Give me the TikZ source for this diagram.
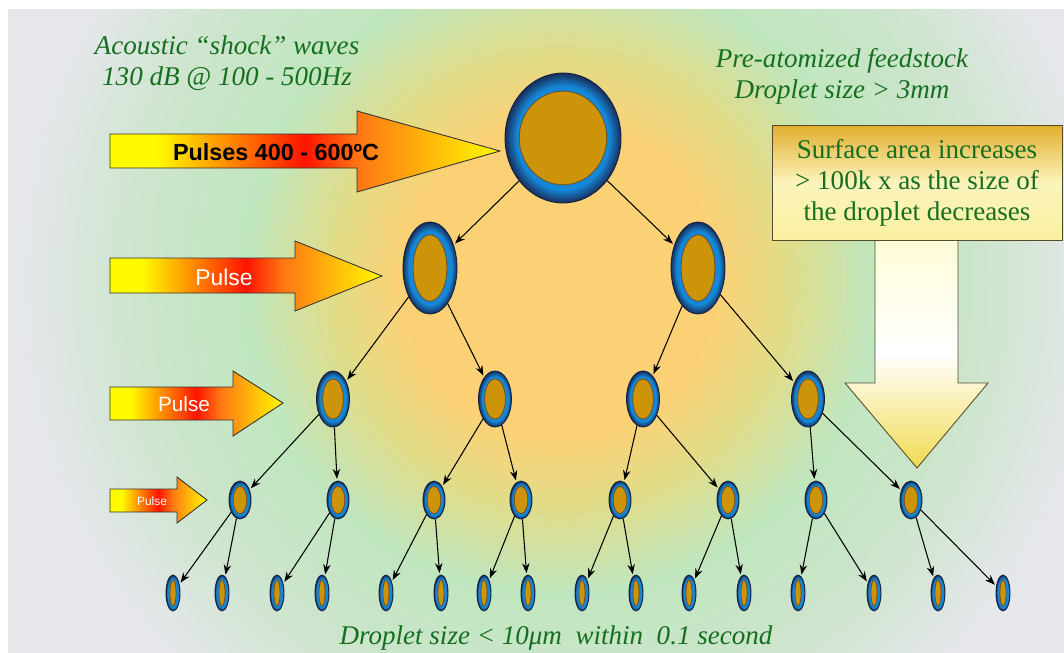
\documentclass[tikz,border=0pt]{standalone}
\usepackage{fontspec}
\setmainfont{Liberation Serif}
\newfontfamily\arialfont{Liberation Sans}
\usetikzlibrary{shapes.geometric, arrows.meta}

\definecolor{txtgreen}{RGB}{22,110,32}
\definecolor{bgcore}{RGB}{252,209,118}
\definecolor{bgmid}{RGB}{226,220,135}
\definecolor{bggreen}{RGB}{192,230,190}
\definecolor{bggreen2}{RGB}{205,229,205}
\definecolor{bggrey}{RGB}{229,231,234}
\definecolor{ringblue}{RGB}{20,135,215}
\definecolor{ringdark}{RGB}{25,45,90}
\definecolor{corefill}{RGB}{205,148,10}
\definecolor{coreline}{RGB}{115,75,20}
\definecolor{boxgold}{RGB}{226,174,46}
\definecolor{boxlight}{RGB}{250,240,160}
\definecolor{shaftlight}{RGB}{255,252,215}
\definecolor{shafttip}{RGB}{240,218,80}
\definecolor{pyellow}{RGB}{255,250,0}
\definecolor{pred}{RGB}{255,20,0}
\definecolor{porange}{RGB}{255,120,20}

\pgfdeclareradialshading{glow}{\pgfpoint{0bp}{0bp}}{color(0bp)=(bgcore); color(7bp)=(bgcore); color(10bp)=(bgmid); color(14bp)=(bggreen); color(19bp)=(bggreen2); color(24bp)=(bggrey); color(50bp)=(bggrey)}
\pgfdeclareradialshading{ring}{\pgfpoint{0bp}{0bp}}{color(0bp)=(ringblue); color(20bp)=(ringblue); color(25bp)=(ringdark); color(50bp)=(ringdark)}
\pgfdeclarehorizontalshading{heat}{100bp}{color(0bp)=(pyellow); color(31bp)=(pyellow); color(50bp)=(pred); color(57bp)=(porange); color(75bp)=(pyellow); color(100bp)=(pyellow)}

\tikzset{
  drop/.style={ellipse, inner sep=0pt, shade, shading=ring, draw=ringdark!70!black, line width=0.5pt},
  core/.style={fill=corefill, draw=coreline, line width=0.4pt},
  split/.style={-{Stealth[length=0.2cm,width=0.15cm]}, line width=0.6pt, shorten >=1pt},
  pulse/.style={shade, shading=heat, draw=black!80, line width=0.5pt},
  note/.style={text=txtgreen, font=\fontsize{15.4}{17.6}\selectfont\itshape, align=center},
}

\newcommand{\droplet}[4]{%
  \node[drop, minimum width=#3*0.04cm, minimum height=#4*0.04cm] (#1) at #2 {};
  \filldraw[core] (#1.center) ellipse [x radius={(#3-0.22*#4)*0.02cm}, y radius={0.72*#4*0.02cm}];
}

\begin{document}
\begin{tikzpicture}[x=0.02cm, y=-0.02cm]
\useasboundingbox (0,0) rectangle (1064,652);
\fill[white] (0,0) rectangle (1064,652);
\begin{scope}
  \clip (8,10) rectangle (1064,652);
  \shade[shading=glow] (0,-280) rectangle (1120,840);
\end{scope}

\draw[pulse] (110,134) -- (357,134) -- (357,111) -- (500,151) -- (357,192) -- (357,168) -- (110,168) -- cycle;
\draw[pulse] (110,258) -- (295,258) -- (295,241) -- (382,276) -- (295,311) -- (295,293) -- (110,293) -- cycle;
\draw[pulse] (110,387) -- (233,387) -- (233,371) -- (283,403) -- (233,436) -- (233,420) -- (110,420) -- cycle;
\draw[pulse] (110,489) -- (177,489) -- (177,477) -- (207,500) -- (177,523) -- (177,512) -- (110,512) -- cycle;
\node[font=\fontsize{13.3}{15}\selectfont\arialfont\bfseries] (hot) at (276,152) {Pulses 400 - 600ºC};
\node[text=white, font=\fontsize{13}{15}\selectfont\arialfont] (pulse2) at (224,277) {Pulse};
\node[text=white, font=\fontsize{11.8}{14}\selectfont\arialfont] (pulse3) at (184,404) {Pulse};
\node[text=white, font=\fontsize{6.8}{8}\selectfont\arialfont] (pulse4) at (152,501) {Pulse};

\shade[top color=shaftlight, bottom color=shafttip, middle color=white, draw=black!55!olive, line width=0.5pt]
  (875,240) -- (875,383) -- (845,383) -- (917,468) -- (988,383) -- (958,383) -- (958,240) -- cycle;
\node[top color=boxgold, bottom color=boxlight, middle color=boxlight!70!white, draw=black!55!olive, line width=0.5pt,
  minimum width=5.8cm, minimum height=2.3cm, text=txtgreen, font=\fontsize{15.4}{17.6}\selectfont, align=center]
  (surf) at (917,182.5) {Surface area increases\\> 100k x as the size of\\the droplet decreases};

\droplet{top}{(563,138)}{58}{65}
\droplet{m1}{(430,268)}{27}{46}
\droplet{m2}{(698,268)}{27}{46}
\droplet{s1}{(333,399)}{16.5}{28}
\droplet{s2}{(495,399)}{16.5}{28}
\droplet{s3}{(643,399)}{16.5}{28}
\droplet{s4}{(808,399)}{16.5}{28}
\droplet{t1}{(240,500)}{11}{19}
\droplet{t2}{(338,500)}{11}{19}
\droplet{t3}{(434,500)}{11}{19}
\droplet{t4}{(521,500)}{11}{19}
\droplet{t5}{(620,500)}{11}{19}
\droplet{t6}{(728,500)}{11}{19}
\droplet{t7}{(816,500)}{11}{19}
\droplet{t8}{(911,500)}{11}{19}
\droplet{f1}{(173,593)}{7}{18}
\droplet{f2}{(222,593)}{7}{18}
\droplet{f3}{(277,593)}{7}{18}
\droplet{f4}{(322,593)}{7}{18}
\droplet{f5}{(386,593)}{7}{18}
\droplet{f6}{(441,593)}{7}{18}
\droplet{f7}{(484,593)}{7}{18}
\droplet{f8}{(528,593)}{7}{18}
\droplet{f9}{(582,593)}{7}{18}
\droplet{f10}{(636,593)}{7}{18}
\droplet{f11}{(689,593)}{7}{18}
\droplet{f12}{(744,593)}{7}{18}
\droplet{f13}{(798,593)}{7}{18}
\droplet{f14}{(874,593)}{7}{18}
\droplet{f15}{(938,593)}{7}{18}
\droplet{f16}{(1003,593)}{7}{18}

\foreach \a/\b in {top/m1, top/m2, m1/s1, m1/s2, m2/s3, m2/s4,
    s1/t1, s1/t2, s2/t3, s2/t4, s3/t5, s3/t6, s4/t7, s4/t8,
    t1/f1, t1/f2, t2/f3, t2/f4, t3/f5, t3/f6, t4/f7, t4/f8,
    t5/f9, t5/f10, t6/f11, t6/f12, t7/f13, t7/f14, t8/f15, t8/f16}
  \draw[split] (\a) -- (\b);

\node[note] (waves) at (227,63) {Acoustic “shock” waves\\130 dB @ 100 - 500Hz};
\node[note] (feed) at (842,76) {Pre-atomized feedstock\\Droplet size > 3mm};
\node[note] (result) at (556,638) {Droplet size < 10μm~~within~~0.1 second};
\end{tikzpicture}
\end{document}
